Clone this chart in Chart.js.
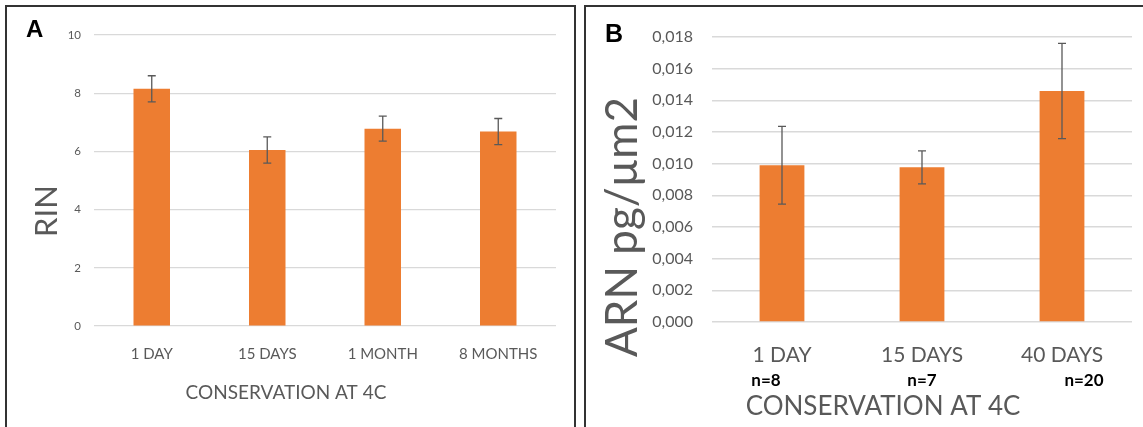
<!DOCTYPE html>
<html>
<head>
<meta charset="utf-8">
<script src="https://cdn.jsdelivr.net/npm/chart.js@4.4.1/dist/chart.umd.min.js"></script>
<style>
  body { margin: 0; background: #fff; width: 1143px; height: 427px; overflow: hidden; position: relative; }
  .panel { position: absolute; border: 2px solid #333; box-sizing: border-box; }
  #panelA { left: 5px; top: 5px; width: 571px; height: 440px; }
  #panelB { left: 584px; top: 5px; width: 580px; height: 440px; }
  canvas { position: absolute; }
  #rinChart { left: 8px; top: 8px; }
  #arnChart { left: 588px; top: 8px; }
</style>
</head>
<body>
<div class="panel" id="panelA"></div>
<div class="panel" id="panelB"></div>
<canvas id="rinChart" width="566" height="419"></canvas>
<canvas id="arnChart" width="555" height="419"></canvas>
<script>
// panel A - RIN
const rinLabels = ['1 DAY', '15 DAYS', '1 MONTH', '8 MONTHS'];
const rinValues = [8.15, 6.05, 6.78, 6.68];
const rinErrors = [0.45, 0.45, 0.43, 0.45];

// panel B - ARN pg/µm2
const arnLabels = ['1 DAY', '15 DAYS', '40 DAYS'];
const arnValues = [0.0099, 0.00977, 0.01459];
const arnErrors = [0.00246, 0.00104, 0.00301];
const arnSampleSizes = ['n=8', 'n=7', 'n=20'];

const orange = '#ED7D31';
const grey = '#595959';
const gridGrey = '#D9D9D9';

Chart.defaults.font.family = 'Lato, "Open Sans", sans-serif';
Chart.defaults.animation = false;

const errorBars = {
  id: 'errorBars',
  afterDatasetsDraw(chart, args, opts) {
    const ctx = chart.ctx;
    const yScale = chart.scales.y;
    const values = chart.data.datasets[0].data;
    chart.getDatasetMeta(0).data.forEach((bar, i) => {
      const top = yScale.getPixelForValue(values[i] + opts.errors[i]);
      const bottom = yScale.getPixelForValue(values[i] - opts.errors[i]);
      ctx.save();
      ctx.strokeStyle = grey;
      ctx.lineWidth = 1.3;
      ctx.beginPath();
      ctx.moveTo(bar.x, top);
      ctx.lineTo(bar.x, bottom);
      ctx.moveTo(bar.x - 4, top);
      ctx.lineTo(bar.x + 4, top);
      ctx.moveTo(bar.x - 4, bottom);
      ctx.lineTo(bar.x + 4, bottom);
      ctx.stroke();
      ctx.restore();
    });
  }
};

// panel letter, rotated y title and x title
const panelText = {
  id: 'panelText',
  afterDraw(chart, args, opts) {
    const ctx = chart.ctx;
    ctx.save();
    ctx.fillStyle = '#000';
    ctx.font = opts.tagFont;
    ctx.textBaseline = 'alphabetic';
    ctx.textAlign = 'left';
    ctx.fillText(opts.tag, opts.tagX, opts.tagY);

    ctx.fillStyle = grey;
    ctx.font = opts.yTitleFont;
    ctx.textAlign = 'center';
    ctx.translate(opts.yTitleX, opts.yTitleY);
    ctx.rotate(-Math.PI / 2);
    ctx.fillText(opts.yTitle, 0, 0);
    ctx.restore();

    ctx.save();
    ctx.fillStyle = grey;
    ctx.font = opts.xTitleFont;
    ctx.textAlign = 'center';
    ctx.textBaseline = 'middle';
    ctx.fillText(opts.xTitle, opts.xTitleX, opts.xTitleY);

    if (opts.counts) {
      const shift = [-16, 0, 22];
      ctx.fillStyle = '#000';
      ctx.font = 'bold 17px Lato, sans-serif';
      chart.getDatasetMeta(0).data.forEach((bar, i) => {
        ctx.fillText(opts.counts[i], bar.x + shift[i], 373);
      });
    }
    ctx.restore();
  }
};

function fixedSize(w, h) {
  return scale => {
    if (w !== null) scale.width = w;
    if (h !== null) scale.height = h;
  };
}

new Chart(document.getElementById('rinChart').getContext('2d'), {
  type: 'bar',
  data: {
    labels: rinLabels,
    datasets: [{
      data: rinValues,
      backgroundColor: orange,
      barPercentage: 0.316,
      categoryPercentage: 1
    }]
  },
  options: {
    responsive: false,
    layout: { padding: { left: 0, right: 18, top: 27, bottom: 0 } },
    plugins: {
      legend: { display: false },
      tooltip: { enabled: false },
      errorBars: { errors: rinErrors },
      panelText: {
        tag: 'A', tagFont: 'bold 24px "Liberation Sans", Arial, sans-serif', tagX: 18, tagY: 29,
        yTitle: 'RIN', yTitleFont: '31px Lato, sans-serif', yTitleX: 49, yTitleY: 203,
        xTitle: 'CONSERVATION AT 4C', xTitleFont: '19px Lato, sans-serif', xTitleX: 278, xTitleY: 385
      }
    },
    scales: {
      x: {
        afterFit: fixedSize(null, 101),
        grid: { display: false },
        border: { display: false },
        ticks: { color: grey, font: { size: 15 }, padding: 11 }
      },
      y: {
        min: 0,
        max: 10,
        afterFit: fixedSize(86, null),
        grid: { color: gridGrey, lineWidth: 1.2, drawTicks: false },
        border: { display: false },
        ticks: { stepSize: 2, color: grey, font: { size: 11.5 }, padding: 13 }
      }
    }
  },
  plugins: [errorBars, panelText]
});

new Chart(document.getElementById('arnChart').getContext('2d'), {
  type: 'bar',
  data: {
    labels: arnLabels,
    datasets: [{
      data: arnValues,
      backgroundColor: orange,
      barPercentage: 0.32,
      categoryPercentage: 1
    }]
  },
  options: {
    responsive: false,
    layout: { padding: { left: 0, right: 11, top: 29, bottom: 0 } },
    plugins: {
      legend: { display: false },
      tooltip: { enabled: false },
      errorBars: { errors: arnErrors },
      panelText: {
        tag: 'B', tagFont: 'bold 25px "Liberation Sans", Arial, sans-serif', tagX: 17, tagY: 34,
        yTitle: 'ARN pg/µm2', yTitleFont: '44px Lato, sans-serif', yTitleX: 49, yTitleY: 219,
        xTitle: 'CONSERVATION AT 4C', xTitleFont: '26px Lato, sans-serif', xTitleX: 295, xTitleY: 399,
        counts: arnSampleSizes
      }
    },
    scales: {
      x: {
        afterFit: fixedSize(null, 105),
        grid: { display: false },
        border: { display: false },
        ticks: { color: grey, font: { size: 21 }, padding: 13 }
      },
      y: {
        min: 0,
        max: 0.018,
        afterFit: fixedSize(124, null),
        grid: { color: gridGrey, lineWidth: 1.5, drawTicks: false },
        border: { display: false },
        ticks: {
          stepSize: 0.002,
          color: grey,
          font: { size: 16 },
          padding: 19,
          callback: v => v.toFixed(3).replace('.', ',')
        }
      }
    }
  },
  plugins: [errorBars, panelText]
});
</script>
</body>
</html>
